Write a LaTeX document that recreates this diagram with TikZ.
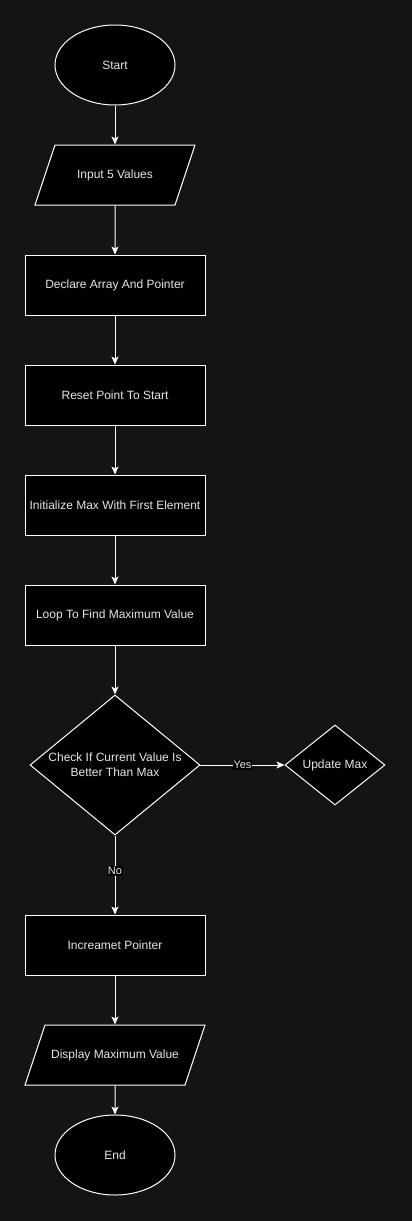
\documentclass[tikz,border=0pt]{standalone}
\usepackage{fontspec}
\setmainfont{Liberation Sans}
\usetikzlibrary{arrows.meta,positioning,shapes.geometric}

\definecolor{bgdark}{HTML}{141414}
\definecolor{txtgray}{HTML}{E6E6E6}

\tikzset{
  base/.style={draw=white, fill=black, text=txtgray, line width=1pt,
    font=\fontsize{12}{15}\selectfont, align=center, inner sep=0pt},
  terminal/.style={base, ellipse, minimum width=120pt, minimum height=80pt},
  process/.style={base, rectangle, minimum width=180pt, minimum height=60pt},
  io/.style={base, trapezium, trapezium left angle=71.57,
    trapezium right angle=108.43, trapezium stretches body,
    text height=9pt, text depth=3pt, inner ysep=24pt, minimum height=60pt},
  decision/.style={base, diamond},
  flow/.style={draw=white, line width=1pt, -{Stealth[length=8pt,width=7pt,inset=2pt]}},
  edgelabel/.style={fill=black, text=txtgray, inner sep=1pt,
    font=\fontsize{11}{13}\selectfont}
}

\begin{document}
\begin{tikzpicture}[x=1pt, y=-1pt]
    % background
    \fill[bgdark] (0,0) rectangle (412,1221);
    \useasboundingbox (0,0) rectangle (412,1221);

    % main column
    \node[terminal] (start) at (115,65) {Start};
    \node[io, minimum width=160pt] (input) at (115,175) {Input 5 Values};
    \node[process] (declare) at (115,285) {Declare Array And Pointer};
    \node[process] (reset) at (115,395) {Reset Point To Start};
    \node[process] (init) at (115,505) {Initialize Max With First Element};
    \node[process] (loop) at (115,615) {Loop To Find Maximum Value};

    % decision
    \node[decision, minimum width=170pt, minimum height=140pt,
      label={[text=txtgray, font=\fontsize{12}{15}\selectfont, align=center]center:{Check If Current Value Is\\Better Than Max}}]
      (check) at (115,765) {};
    \node[decision, minimum width=100pt, minimum height=80pt] (update) at (335,765) {Update Max};

    \node[process] (incr) at (115,945) {Increamet Pointer};
    \node[io, minimum width=180pt] (display) at (115,1055) {Display Maximum Value};
    \node[terminal] (end) at (115,1155) {End};

    % arrows
    \draw[flow] (start) -- (input);
    \draw[flow] (input) -- (declare);
    \draw[flow] (declare) -- (reset);
    \draw[flow] (reset) -- (init);
    \draw[flow] (init) -- (loop);
    \draw[flow] (loop) -- (check);
    \draw[flow] (check) -- node[edgelabel] {Yes} (update);
    \draw[flow] (check) -- node[edgelabel, pos=0.45] {No} (incr);
    \draw[flow] (incr) -- (display);
    \draw[flow] (display) -- (end);
\end{tikzpicture}
\end{document}
